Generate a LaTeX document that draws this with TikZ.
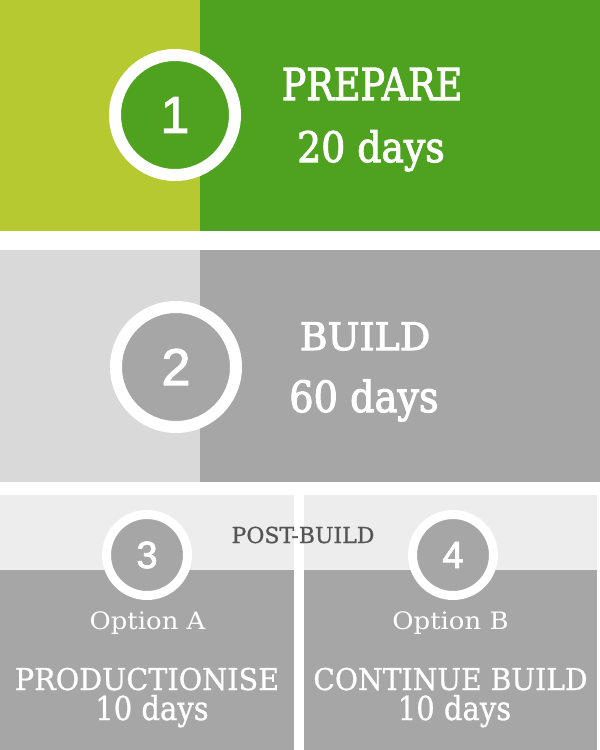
\documentclass[tikz,border=0pt]{standalone}
\usepackage{fontspec}
\usepackage{graphicx}
\newfontfamily\slabh[FakeBold=2.6]{DejaVu Serif}
\newfontfamily\slabf[FakeBold=0.9]{DejaVu Serif}
\newfontfamily\slabl{DejaVu Serif}
\newfontfamily\numf[FakeBold=2]{Liberation Sans}
\definecolor{ltgreen}{HTML}{B6C931}
\definecolor{dkgreen}{HTML}{4EA21F}
\definecolor{ltgray}{HTML}{D9D9D9}
\definecolor{midgray}{HTML}{A6A6A6}
\definecolor{vltgray}{HTML}{EDEDED}
\definecolor{dkgraytext}{HTML}{555555}
\newcommand\mytxt[3]{\slabf\fontsize{#1}{#1}\selectfont\scalebox{#2}[1]{#3}}
\newcommand\mylight[3]{\slabl\fontsize{#1}{#1}\selectfont\scalebox{#2}[1]{#3}}
\newcommand\myhead[3]{\slabh\fontsize{#1}{#1}\selectfont\scalebox{#2}[1]{#3}}
\tikzset{
  lbl/.style={inner sep=0pt, outer sep=0pt, anchor=base, text=white},
  bignum/.style={circle, draw=white, line width=12pt, minimum size=120pt, inner sep=0pt, text=white, font=\numf\fontsize{52}{52}\selectfont},
  smallnum/.style={circle, draw=white, line width=9pt, minimum size=81pt, inner sep=0pt, text=white, fill=midgray, font=\numf\fontsize{38}{38}\selectfont}
}
\begin{document}
\begin{tikzpicture}[x=1pt,y=-1pt]
\useasboundingbox (0,0) rectangle (600,750);
\fill[white] (0,0) rectangle (600,750);
% band 1
\fill[ltgreen] (0,0) rectangle (200,231);
\fill[dkgreen] (200,0) rectangle (600,231);
% band 2
\fill[ltgray] (0,250) rectangle (200,482);
\fill[midgray] (200,250) rectangle (600,482);
% bottom panels
\fill[vltgray] (0,495) rectangle (294,570);
\fill[midgray] (0,570) rectangle (294,750);
\fill[vltgray] (303.5,495) rectangle (597,570);
\fill[midgray] (303.5,570) rectangle (597,750);
% circles
\node[bignum, fill=dkgreen] (c1) at (175,115) {1};
\node[bignum, fill=midgray] (c2) at (176,367) {2};
\node[smallnum] (c3) at (147,555) {3};
\node[smallnum] (c4) at (453,555) {4};
% texts
\node[lbl] (prep) at (372,100) {\myhead{44}{0.83}{PREPARE}};
\node[lbl] (d20) at (371,162) {\myhead{42}{0.90}{20 days}};
\node[lbl] (build) at (365,350) {\myhead{38}{1.0}{BUILD}};
\node[lbl] (d60) at (364,412) {\myhead{43}{0.89}{60 days}};
\node[lbl, text=dkgraytext] (post) at (303,543) {\mytxt{22}{1.0}{POST-BUILD}};
\node[lbl] (opta) at (147.5,629) {\mylight{24}{1.08}{Option A}};
\node[lbl] (optb) at (450.5,629) {\mylight{24}{1.08}{Option B}};
\node[lbl] (prod) at (147,690) {\mytxt{30}{0.955}{PRODUCTIONISE}};
\node[lbl] (cont) at (450.5,690) {\mytxt{30}{0.94}{CONTINUE BUILD}};
\node[lbl] (d10a) at (152,720) {\mytxt{33}{0.88}{10 days}};
\node[lbl] (d10b) at (454.5,720) {\mytxt{33}{0.88}{10 days}};
\end{tikzpicture}
\end{document}
